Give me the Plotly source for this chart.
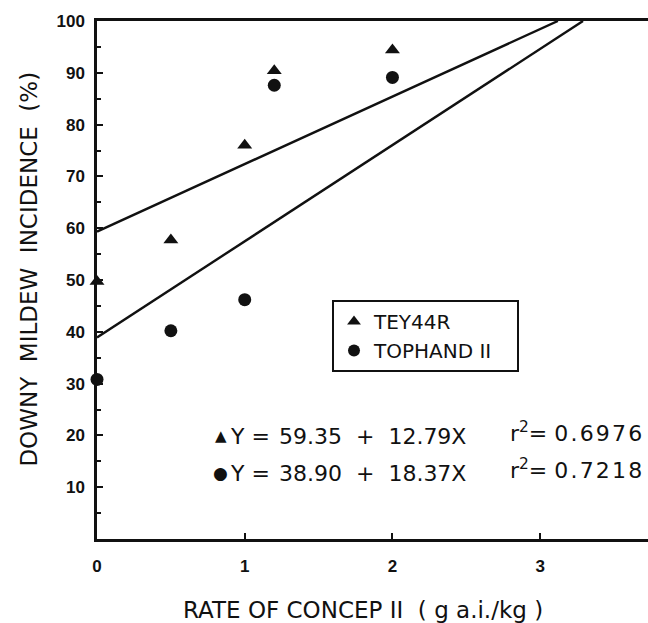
import plotly.graph_objects as go

# Data
rate_tey = [0, 0.5, 1.0, 1.2, 2.0]
incid_tey = [49.7, 57.7, 76.0, 90.4, 94.4]
rate_top = [0, 0.5, 1.0, 1.2, 2.0, 3.77]
incid_top = [30.8, 40.2, 46.2, 87.6, 89.1, 98.3]

# regression lines (endpoints as drawn, clipped at 100)
fit_x_tey = [0, 3.12]
fit_y_tey = [59.35, 100]
fit_x_top = [0, 3.29]
fit_y_top = [38.90, 100]

y_ticks = [10, 20, 30, 40, 50, 60, 70, 80, 90, 100]
y_minor = [5, 15, 25, 35, 45, 55, 65, 75, 85, 95]
x_ticks = [0, 1, 2, 3]

series_names = ["TEY44R", "TOPHAND II"]
eq_lhs = ["Y =", "Y ="]
eq_rhs = ["59.35  +  12.79X", "38.90  +  18.37X"]
r2_vals = ["0.6976", "0.7218"]

FONT = "Liberation Sans"
TXT = "DejaVu Sans"
INK = "#111111"
NB = "\u00a0"
HAIR = "\u200a"

fig = go.Figure()
fig.add_trace(go.Scatter(x=fit_x_tey, y=fit_y_tey, mode="lines",
                         line=dict(color=INK, width=2.4), showlegend=False, hoverinfo="skip"))
fig.add_trace(go.Scatter(x=fit_x_top, y=fit_y_top, mode="lines",
                         line=dict(color=INK, width=2.4), showlegend=False, hoverinfo="skip"))
fig.add_trace(go.Scatter(x=rate_tey, y=incid_tey, mode="markers",
                         name=series_names[0] + NB * 5,
                         marker=dict(symbol="triangle-up", size=13, color=INK),
                         cliponaxis=False))
fig.add_trace(go.Scatter(x=rate_top, y=incid_top, mode="markers",
                         name=series_names[1] + NB * 3,
                         marker=dict(symbol="circle", size=13, color=INK),
                         cliponaxis=False))

fig.update_layout(
    width=648, height=623,
    margin=dict(l=97, r=0, t=21, b=84),
    paper_bgcolor="white", plot_bgcolor="white",
    font=dict(family=FONT, color=INK),
    showlegend=True,
    legend=dict(x=0.4265, y=0.4614, xanchor="left", yanchor="top",
                bordercolor=INK, borderwidth=2, bgcolor="white",
                font=dict(family=TXT, size=20, color=INK),
                itemsizing="constant", tracegroupgap=0, itemwidth=30),
    xaxis=dict(range=[0, 3.73], tickvals=x_ticks, ticktext=[str(v) for v in x_ticks],
               showgrid=False, zeroline=False, showline=True, linecolor=INK, linewidth=2.5,
               mirror=True, ticks="inside", ticklen=6, tickwidth=2, tickcolor=INK,
               ticklabelstandoff=10,
               tickfont=dict(family=FONT, size=17, color=INK, weight="bold")),
    yaxis=dict(range=[0, 100], tickvals=y_ticks, ticktext=[str(v) for v in y_ticks],
               showgrid=False, zeroline=False, showline=True, linecolor=INK, linewidth=2.5,
               ticks="inside", ticklen=6, tickwidth=2, tickcolor=INK,
               ticklabelstandoff=6,
               minor=dict(tickvals=y_minor,
                          ticks="inside", ticklen=4, tickwidth=1.5, tickcolor=INK),
               tickfont=dict(family=FONT, size=17, color=INK, weight="bold")),
)

fig.add_annotation(text="DOWNY  MILDEW  INCIDENCE  (%)", xref="paper", yref="paper",
                   x=-0.1225, y=0.521, xanchor="center", yanchor="middle",
                   textangle=-90, showarrow=False,
                   font=dict(family=TXT, size=23, color=INK))
fig.add_annotation(text="RATE OF CONCEP II  ( g a.i./kg )", xref="paper", yref="paper",
                   x=0.483, y=-0.137, xanchor="center", yanchor="middle",
                   showarrow=False, font=dict(family=TXT, size=23, color=INK))

eq_font = dict(family=TXT, size=22, color=INK)
row_y = [0.1988, 0.1274]
symbols = ["\u25b2", "\u25cf"]
sym_sizes = [15, 17]
for i in range(2):
    y = row_y[i]
    fig.add_annotation(text=symbols[i], xref="paper", yref="paper", x=0.2245, y=y,
                       xanchor="center", yanchor="middle", showarrow=False,
                       font=dict(family=TXT, size=sym_sizes[i], color=INK))
    fig.add_annotation(text=eq_lhs[i], xref="paper", yref="paper", x=0.2377, y=y,
                       xanchor="left", yanchor="middle", showarrow=False, font=eq_font)
    fig.add_annotation(text=eq_rhs[i], xref="paper", yref="paper", x=0.6733, y=y,
                       xanchor="right", yanchor="middle", showarrow=False, font=eq_font)
    fig.add_annotation(text="r<sup>2</sup>= " + HAIR.join(r2_vals[i]), xref="paper",
                       yref="paper", x=0.7459, y=y + 0.0085, xanchor="left",
                       yanchor="middle", showarrow=False, font=eq_font)

fig.write_html("out.html", config={"displayModeBar": False},
               post_script="document.body.style.margin='0';")
